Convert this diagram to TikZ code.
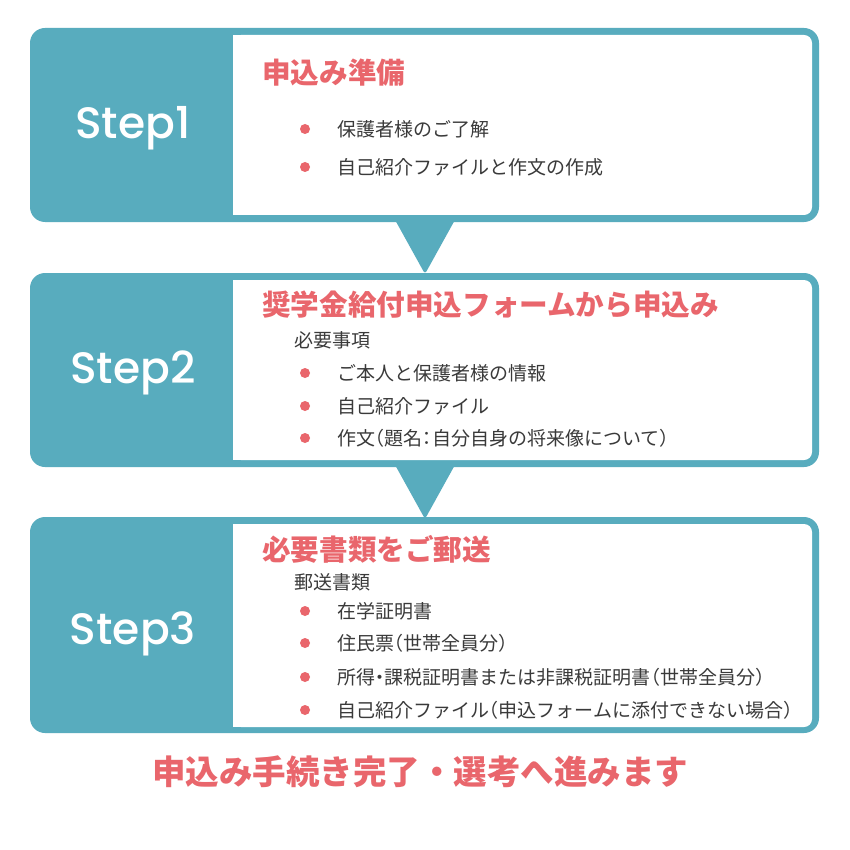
\documentclass[tikz,border=0pt]{standalone}
\usepackage{fontspec}
\newfontfamily\jp{Noto Sans CJK JP}
\newfontfamily\stepfont{Poppins Medium}
\definecolor{tealc}{HTML}{58ACBE}
\definecolor{redc}{HTML}{E9666C}
\definecolor{textc}{HTML}{3A3A3A}
\newcommand{\hw}[1]{{\addfontfeature{RawFeature=+halt}#1}}
\begin{document}
\begin{tikzpicture}[x=1pt,y=-1pt,
  steplabel/.style={text=white,font=\stepfont\fontsize{44}{44}\selectfont,inner sep=0pt},
  titletext/.style={anchor=west,text=redc,font=\jp\bfseries\fontsize{28.6}{28.6}\selectfont,inner sep=0pt},
  subtext/.style={anchor=west,text=textc,font=\jp\fontsize{19}{19}\selectfont,inner sep=0pt},
  itemtext/.style={anchor=west,text=textc,font=\jp\fontsize{19}{19}\selectfont,inner sep=0pt},
  bulletdot/.style={circle,fill=redc,minimum size=10pt,inner sep=0pt},
  arrowtri/.style={fill=tealc,rounded corners=3pt}]
\useasboundingbox (0,0) rectangle (850,850);
\fill[white] (0,0) rectangle (850,850);
% boxes
\newcommand{\stepbox}[4]{%
  \fill[tealc,rounded corners=15pt] (30,#1) rectangle (819,#2);
  \fill[white,rounded corners=8pt] (233,#3) rectangle (812,#4);
  \fill[white] (233,#3) rectangle (260,#4);}
\stepbox{28}{222}{35}{215}
\stepbox{273}{467}{280}{460}
\stepbox{517}{733}{524}{727}
% connectors
\fill[arrowtri] (394,218) -- (456,218) -- (425,274) -- cycle;
\fill[arrowtri] (394,463) -- (456,463) -- (425,519) -- cycle;
% step labels
\node[steplabel] (s1) at (133,128) {Step1};
\node[steplabel] (s2) at (133,373) {Step2};
\node[steplabel] (s3) at (133,634) {Step3};
% box 1
\node[titletext] (t1) at (262,73) {申込み準備};
\node[bulletdot] (b11) at (305,129) {};
\node[itemtext] (i11) at (337,129) {保護者様のご了解};
\node[bulletdot] (b12) at (305,167) {};
\node[itemtext] (i12) at (337,167) {自己紹介ファイルと作文の作成};
% box 2
\node[titletext] (t2) at (262,305) {奨学金給付申込フォームから申込み};
\node[subtext] (h2) at (294,340) {必要事項};
\node[bulletdot] (b21) at (305,373) {};
\node[itemtext] (i21) at (337,373) {ご本人と保護者様の情報};
\node[bulletdot] (b22) at (305,406) {};
\node[itemtext] (i22) at (337,406) {自己紹介ファイル};
\node[bulletdot] (b23) at (305,438) {};
\node[itemtext] (i23) at (337,438) {作文\hw{（}題名\hw{：}自分自身の将来像について\hw{）}};
% box 3
\node[titletext] (t3) at (262,549) {必要書類をご郵送};
\node[subtext] (h3) at (294,582) {郵送書類};
\node[bulletdot] (b31) at (305,611) {};
\node[itemtext] (i31) at (337,611) {在学証明書};
\node[bulletdot] (b32) at (305,643) {};
\node[itemtext] (i32) at (337,643) {住民票\hw{（}世帯全員分\hw{）}};
\node[bulletdot] (b33) at (305,677) {};
\node[itemtext] (i33) at (337,677) {所得\hw{・}課税証明書または非課税証明書\hw{（}世帯全員分\hw{）}};
\node[bulletdot] (b34) at (305,710) {};
\node[itemtext] (i34) at (337,710) {自己紹介ファイル\hw{（}申込フォームに添付できない場合\hw{）}};
% footer
\node[titletext,font=\jp\bfseries\fontsize{33.5}{33.5}\selectfont] (fin) at (152,772) {申込み手続き完了・選考へ進みます};
\end{tikzpicture}
\end{document}
